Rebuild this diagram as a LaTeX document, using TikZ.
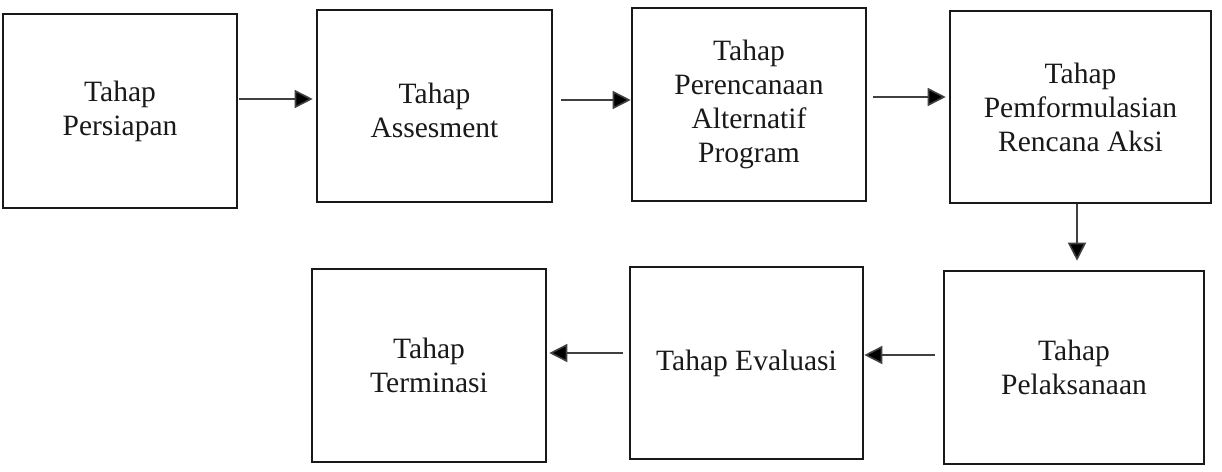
\documentclass[tikz,border=0pt]{standalone}
\usepackage{fontspec}
\setmainfont{Liberation Serif}
\usetikzlibrary{arrows.meta}
\tikzset{
  stage/.style={draw=black!90, line width=2.6pt, align=center, inner sep=0pt,
    font=\fontsize{29.5}{34}\selectfont, text=black!90},
  arr/.style={draw=black!75, line width=1.6pt, -{Triangle[length=18pt,width=18pt,fill=black]}}
}
\begin{document}
\begin{tikzpicture}[x=1pt,y=-1pt]
\useasboundingbox[fill=white] (0,0) rectangle (1222,471);
\node[stage, minimum width=234pt, minimum height=194pt] (b1) at (120,111) {Tahap\\Persiapan};
\node[stage, minimum width=235pt, minimum height=192pt] (b2) at (434.5,106) {};
\node[stage, minimum width=234pt, minimum height=193pt] (b3) at (749,104.5) {Tahap\\Perencanaan\\Alternatif\\Program};
\node[stage, minimum width=261pt, minimum height=192pt] (b4) at (1080.5,107) {Tahap\\Pemformulasian\\Rencana Aksi};
\node[stage, minimum width=260pt, minimum height=193pt] (b5) at (1074,367.5) {Tahap\\Pelaksanaan};
\node[stage, minimum width=233pt, minimum height=192pt] (b6) at (746.5,363) {Tahap Evaluasi};
\node[stage, minimum width=234pt, minimum height=193pt] (b7) at (429,365.5) {Tahap\\Terminasi};
\node[stage, draw=none, anchor=center] (t2) at (b2.center) [yshift=-4pt] {Tahap\\Assesment};
\draw[arr, shorten <=1pt, shorten >=3pt] (b1.east |- 0,99) -- (b2.west |- 0,99);
\draw[arr, shorten <=8pt] (b2.east |- 0,100) -- (b3.west |- 0,100);
\draw[arr, shorten <=6pt, shorten >=3pt] (b3.east |- 0,97) -- (b4.west |- 0,97);
\draw[arr, shorten >=9pt] (b4.south -| 1077,0) -- (b5.north -| 1077,0);
\draw[arr, shorten <=8pt] (b5.west |- 0,355) -- (b6.east |- 0,355);
\draw[arr, shorten <=6pt, shorten >=2pt] (b6.west |- 0,353) -- (b7.east |- 0,353);
\end{tikzpicture}
\end{document}
